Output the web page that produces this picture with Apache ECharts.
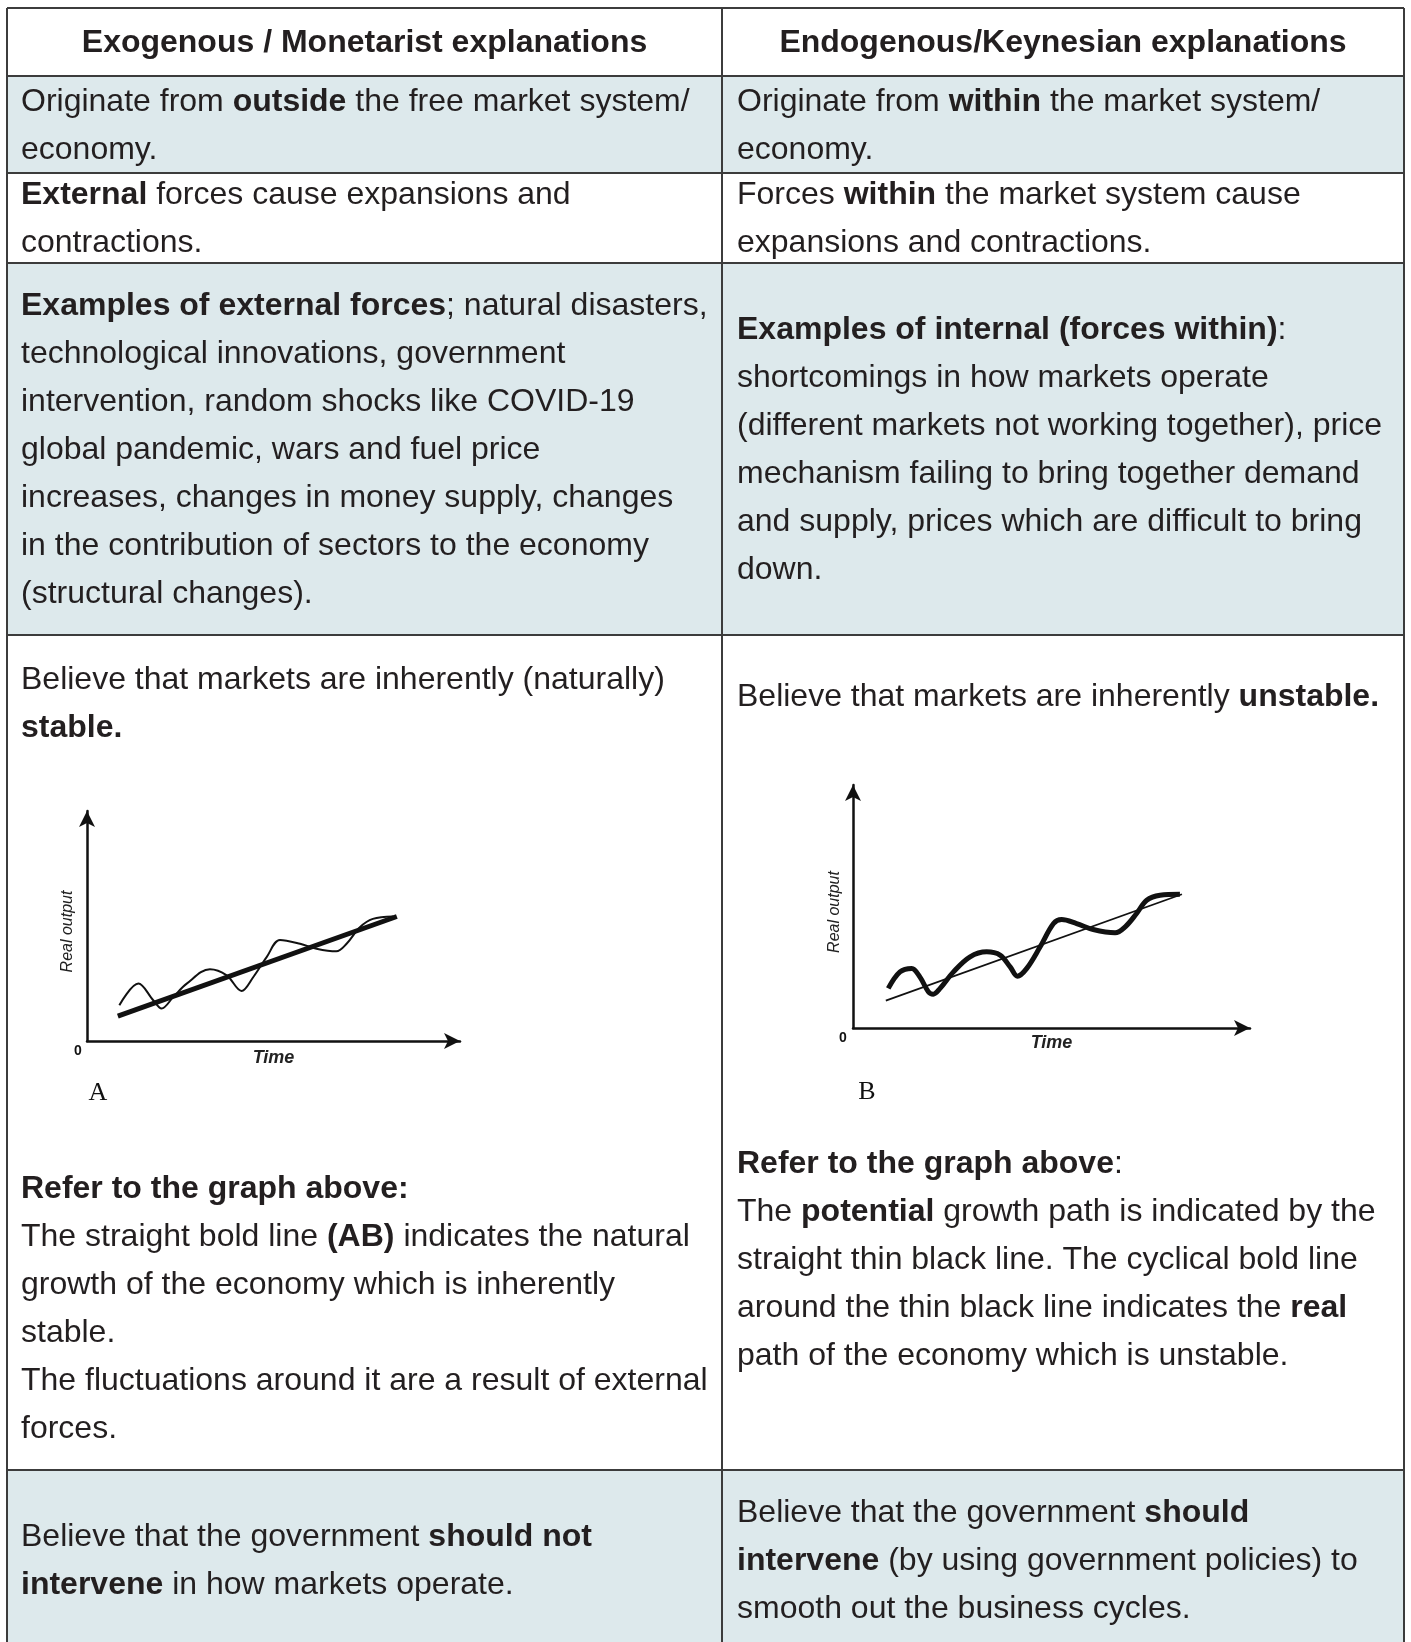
<!DOCTYPE html>
<html>
<head>
<meta charset="utf-8">
<script src="https://cdn.jsdelivr.net/npm/echarts@6/dist/echarts.min.js"></script>
<style>
html,body{margin:0;padding:0;background:#fff;}
#c{width:1411px;height:1642px;}
</style>
</head>
<body>
<div id="c"></div>
<script>
// ---------- data ----------
var headerLeft = "Exogenous / Monetarist explanations";
var headerRight = "Endogenous/Keynesian explanations";

var row1Left = ["Originate from {b|outside} the free market system/", "economy."];
var row1Right = ["Originate from {b|within} the market system/", "economy."];
var row2Left = ["{b|External} forces cause expansions and", "contractions."];
var row2Right = ["Forces {b|within} the market system cause", "expansions and contractions."];
var row3Left = [
  "{b|Examples of external forces}; natural disasters,",
  "technological innovations, government",
  "intervention, random shocks like COVID-19",
  "global pandemic, wars and fuel price",
  "increases, changes in money supply, changes",
  "in the contribution of sectors to the economy",
  "(structural changes)."
];
var row3Right = [
  "{b|Examples of internal (forces within)}:",
  "shortcomings in how markets operate",
  "(different markets not working together), price",
  "mechanism failing to bring together demand",
  "and supply, prices which are difficult to bring",
  "down."
];
var row4LeftTop = ["Believe that markets are inherently (naturally)", "{b|stable.}"];
var row4RightTop = ["Believe that markets are inherently {b|unstable.}"];
var row4LeftBottom = [
  "{b|Refer to the graph above:}",
  "The straight bold line {b|(AB)} indicates the natural",
  "growth of the economy which is inherently",
  "stable.",
  "The fluctuations around it are a result of external",
  "forces."
];
var row4RightBottom = [
  "{b|Refer to the graph above}:",
  "The {b|potential} growth path is indicated by the",
  "straight thin black line. The cyclical bold line",
  "around the thin black line indicates the {b|real}",
  "path of the economy which is unstable."
];
var row5Left = ["Believe that the government {b|should not}", "{b|intervene} in how markets operate."];
var row5Right = ["Believe that the government {b|should}", "{b|intervene} (by using government policies) to", "smooth out the business cycles."];

var axisNameY = "Real output";
var axisNameX = "Time";
var originLabel = "0";
var graphLabelA = "A";
var graphLabelB = "B";

// Graph A (time, real output)
var trendA = [[8.1, 10.5], [81.4, 52.5]];
var cycleA = [
  [8.5, 15.1], [13.5, 24.2], [17.4, 17.2], [19.6, 13.7], [22.7, 18.6], [26.2, 24.2],
  [32.3, 30.3], [36.7, 27.7], [40.6, 21.1], [43.7, 27.0], [47.2, 35.4], [50.7, 42.6],
  [56.0, 41.0], [60.3, 38.9], [65.5, 37.8], [68.2, 41.0], [71.7, 48.0], [75.1, 51.5],
  [80.4, 52.5]
];
// Graph B (time, real output)
var trendB = [[8.1, 10.9], [81.2, 53.4]];
var cycleB = [
  [8.7, 15.8], [11.6, 22.4], [14.5, 23.8], [16.5, 20.4], [18.6, 14.5], [19.8, 13.5],
  [21.5, 15.8], [24.8, 22.4], [28.9, 28.4], [33.0, 30.4], [36.3, 29.1], [38.8, 24.4],
  [40.6, 20.7], [42.9, 23.8], [46.2, 32.4], [49.5, 41.7], [51.5, 43.3], [55.2, 41.7],
  [59.3, 39.3], [64.7, 38.0], [67.2, 40.4], [70.0, 45.7], [72.5, 51.0], [75.8, 53.0],
  [80.7, 53.4]
];

// ---------- layout ----------
var FONT = "'Liberation Sans', Arial, Helvetica, sans-serif";
var TXT = "#231f20";
var BLUE = "#dde9ec";
var BORDER = "#3c3c3c";
var L = 7, M = 722, R = 1404;
var rowY = [8, 76, 173, 263, 635, 1470, 1642];
var LX = 21, RX = 737, LH = 48, FS = 32;

var graphics = [];
[1, 3, 5].forEach(function (i) {
  graphics.push({type: 'rect', z: -20, shape: {x: L, y: rowY[i], width: R - L, height: rowY[i + 1] - rowY[i]}, style: {fill: BLUE}});
});
for (var i = 0; i < 6; i++) {
  graphics.push({type: 'line', z: -5, shape: {x1: L, y1: rowY[i], x2: R, y2: rowY[i]}, style: {stroke: BORDER, lineWidth: 2}});
}
[L, M, R].forEach(function (x) {
  graphics.push({type: 'line', z: -5, shape: {x1: x, y1: rowY[0], x2: x, y2: rowY[6]}, style: {stroke: BORDER, lineWidth: 2}});
});

function addLines(lines, x, y0) {
  lines.forEach(function (t, k) {
    graphics.push({
      type: 'text', x: x, y: y0 + k * LH,
      style: {
        text: t, fontFamily: FONT, fontSize: FS, fill: TXT,
        verticalAlign: 'middle', align: 'left',
        rich: {b: {fontFamily: FONT, fontSize: FS, fontWeight: 'bold', fill: TXT}}
      }
    });
  });
}
graphics.push({type: 'text', x: (L + M) / 2, y: 43, style: {text: headerLeft, fontFamily: FONT, fontSize: FS, fontWeight: 'bold', fill: TXT, align: 'center', verticalAlign: 'middle'}});
graphics.push({type: 'text', x: (M + R) / 2, y: 43, style: {text: headerRight, fontFamily: FONT, fontSize: FS, fontWeight: 'bold', fill: TXT, align: 'center', verticalAlign: 'middle'}});

addLines(row1Left, LX, 102);
addLines(row1Right, RX, 102);
addLines(row2Left, LX, 195);
addLines(row2Right, RX, 195);
addLines(row3Left, LX, 306);
addLines(row3Right, RX, 330);
addLines(row4LeftTop, LX, 680);
addLines(row4RightTop, RX, 697);
addLines(row4LeftBottom, LX, 1189);
addLines(row4RightBottom, RX, 1164);
addLines(row5Left, LX, 1537);
addLines(row5Right, RX, 1513);

graphics.push({type: 'text', x: 78, y: 1051, style: {text: originLabel, fontFamily: FONT, fontSize: 14, fontWeight: 'bold', fill: '#111', align: 'center', verticalAlign: 'middle'}});
graphics.push({type: 'text', x: 843, y: 1038, style: {text: originLabel, fontFamily: FONT, fontSize: 14, fontWeight: 'bold', fill: '#111', align: 'center', verticalAlign: 'middle'}});
graphics.push({type: 'text', x: 98, y: 1093, style: {text: graphLabelA, fontFamily: "'Liberation Serif', 'Times New Roman', serif", fontSize: 26, fill: '#111', align: 'center', verticalAlign: 'middle'}});
graphics.push({type: 'text', x: 867, y: 1092, style: {text: graphLabelB, fontFamily: "'Liberation Serif', 'Times New Roman', serif", fontSize: 26, fill: '#111', align: 'center', verticalAlign: 'middle'}});

function xAx(idx, max, gap) {
  return {
    type: 'value', gridIndex: idx, min: 0, max: max,
    name: axisNameX, nameLocation: 'middle', nameGap: gap,
    nameTextStyle: {fontFamily: FONT, fontStyle: 'italic', fontWeight: 'bold', fontSize: 18, color: '#222'},
    axisLine: {show: true, onZero: false, symbol: ['none', 'arrow'], symbolSize: [12, 16], lineStyle: {color: '#111', width: 2.5}},
    axisTick: {show: false}, axisLabel: {show: false}, splitLine: {show: false}
  };
}
function yAx(idx, max, gap) {
  return {
    type: 'value', gridIndex: idx, min: 0, max: max,
    name: axisNameY, nameLocation: 'middle', nameGap: gap, nameRotate: 90,
    nameTextStyle: {fontFamily: FONT, fontStyle: 'italic', fontSize: 16, color: '#222', padding: [0, 11, 0, 0]},
    axisLine: {show: true, onZero: false, symbol: ['none', 'arrow'], symbolSize: [12, 16], lineStyle: {color: '#111', width: 2.5}},
    axisTick: {show: false}, axisLabel: {show: false}, splitLine: {show: false}
  };
}

var chart = echarts.init(document.getElementById('c'), null, {renderer: 'canvas'});
chart.setOption({
  animation: false,
  backgroundColor: '#ffffff',
  grid: [
    {left: 87, top: 811, width: 373, height: 230, containLabel: false},
    {left: 853, top: 785, width: 397, height: 243, containLabel: false}
  ],
  xAxis: [xAx(0, 98, 8), xAx(1, 98, 6)],
  yAxis: [yAx(0, 97, 11), yAx(1, 97, 10)],
  graphic: graphics,
  series: [
    {type: 'line', xAxisIndex: 0, yAxisIndex: 0, data: trendA, showSymbol: false, lineStyle: {color: '#111', width: 5}, z: 3},
    {type: 'line', xAxisIndex: 0, yAxisIndex: 0, data: cycleA, smooth: 0.35, showSymbol: false, lineStyle: {color: '#111', width: 2}, z: 3},
    {type: 'line', xAxisIndex: 1, yAxisIndex: 1, data: trendB, showSymbol: false, lineStyle: {color: '#111', width: 1.8}, z: 3},
    {type: 'line', xAxisIndex: 1, yAxisIndex: 1, data: cycleB, smooth: 0.35, showSymbol: false, lineStyle: {color: '#111', width: 5}, z: 3}
  ]
});
</script>
</body>
</html>
